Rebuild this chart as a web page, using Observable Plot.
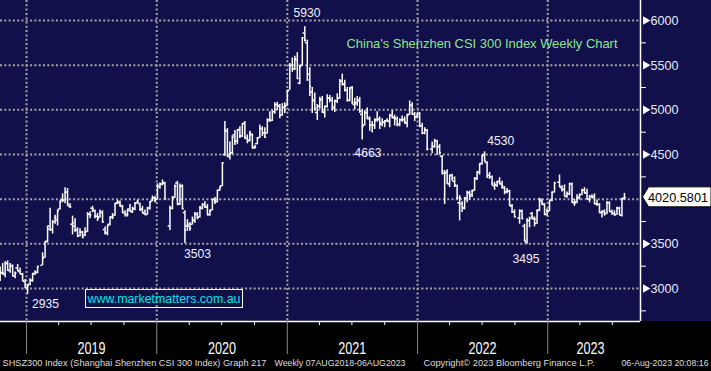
<!DOCTYPE html>
<html><head><meta charset="utf-8">
<script src="https://cdn.jsdelivr.net/npm/d3@7"></script>
<script src="https://cdn.jsdelivr.net/npm/@observablehq/plot@0.6"></script>
<style>
html,body{margin:0;padding:0;background:#000;}
#chart svg{display:block;}
</style></head><body><div id="chart"></div>
<script>
// ---- data (weekly OHLC, week ending Friday, first week 2018-10-19; null = market closed) ----
const firstWeek = "2018-10-19";
const opens = [
3215,3180,3160,3280,3200,3250,3140,3230,3190,3160,
3080,3010,3050,3090,3165,3180,null,3260,3350,3530,
3700,3660,3750,3770,3890,3990,3990,4080,3920,3720,
3700,3660,3590,3630,3600,3640,3830,3900,3870,3810,
3800,3850,3660,3620,3720,3800,3820,3960,3960,3920,
3850,3830,3890,3860,3890,3960,3950,3890,3840,3830,
3900,3980,4010,4000,4140,4170,4180,null,3700,3900,
4020,4180,3950,4150,3850,3700,3700,3720,3760,3830,
3800,3900,3940,3910,3830,3880,4000,3970,4100,4150,
4500,4760,4480,4520,4720,4650,4780,4710,4850,4680,
4660,4720,4580,4620,4690,4790,4740,4740,4890,4880,
4980,5060,5040,4940,5030,5050,5220,5500,5460,5560,
5300,5500,5860,5750,5400,5200,5110,4970,5040,5120,
4970,5040,5130,5110,5020,5100,5130,5320,5290,5220,
5110,5250,5060,5080,5110,4950,4830,4970,4900,4830,
4830,4890,4890,4840,4860,4880,4870,4940,4910,4900,
4840,4890,4890,4850,4950,5050,4950,4920,4960,4820,
4740,4770,null,4560,4590,4650,4590,4480,4290,4300,
4170,4270,4200,4150,3960,3950,3900,4010,4070,4050,
4100,4230,4300,4400,4500,4410,4270,4250,4150,4160,
4200,4170,4130,4080,4090,3920,3860,null,3790,3870,
3700,3520,3760,3840,3780,3730,3880,3980,3940,3830,
3870,3990,4080,null,4190,4130,4110,4030,4060,4170,
3960,3970,4020,4050,4100,4070,4000,4030,4030,3950,
3940,3850,3860,3840,3960,3860,3840,3830,3900,3820,
4010];
const highs = [
3240,3280,3300,3310,3280,3265,3185,3270,3230,3170,
3100,3040,3110,3170,3200,3250,null,3400,3525,3700,
3900,3760,3820,3880,3980,4060,4127,4120,3950,3810,
3780,3680,3670,3640,3680,3850,3860,3920,3880,3840,
3880,3870,3690,3710,3800,3840,3950,3985,3980,3930,
3870,3890,3940,3910,3960,3990,3955,3920,3880,3910,
3970,4035,4030,4172,4180,4215,4190,null,3920,4030,
4160,4200,4170,4160,3870,3770,3740,3800,3850,3850,
3915,3950,3970,3940,3880,4000,4020,4100,4140,4410,
4870,4790,4640,4710,4770,4780,4810,4845,4870,4720,
4760,4730,4600,4690,4830,4810,4800,4900,4980,4990,
5080,5085,5060,5070,5080,5220,5520,5580,5600,5640,
5500,5810,5930,5780,5470,5250,5190,5060,5140,5150,
5040,5170,5160,5140,5110,5180,5340,5400,5330,5250,
5250,5260,5130,5150,5140,5000,4990,5020,4920,4870,
4900,4980,4920,4900,4880,4900,4950,4990,4940,4920,
4900,4930,4920,4950,5100,5080,4970,4960,4970,4850,
4800,4780,null,4640,4670,4660,4610,4490,4320,4330,
4270,4280,4250,4160,4040,3970,4020,4090,4090,4100,
4240,4310,4400,4490,4530,4420,4300,4260,4190,4200,
4240,4200,4140,4120,4100,3940,3880,null,3880,3880,
3720,3780,3800,3850,3800,3880,4010,4000,3950,3890,
3990,4080,4190,null,4270,4150,4160,4080,4180,4180,
4000,4050,4060,4110,4130,4110,4040,4050,4060,3990,
3950,3870,3880,3970,3970,3880,3870,3910,3910,4010,
4065];
const lows = [
3080,3150,3120,3195,3170,3140,3110,3190,3160,3080,
3005,2935,3030,3070,3145,3165,null,3255,3340,3510,
3640,3610,3720,3700,3880,3960,3950,3920,3900,3600,
3630,3570,3580,3560,3580,3630,3780,3850,3780,3750,
3790,3730,3600,3590,3700,3770,3810,3940,3910,3840,
3814,3800,3860,3840,3870,3950,3870,3840,3820,3820,
3880,3970,3960,3990,4110,4150,4000,null,3650,3880,
4010,3930,3930,3880,3503,3640,3640,3710,3730,3770,
3790,3880,3900,3820,3810,3870,3940,3960,4090,4140,
4480,4470,4440,4500,4600,4610,4680,4690,4670,4620,
4640,4570,4560,4610,4680,4700,4680,4730,4860,4870,
4950,4990,4900,4930,4960,5040,5220,5420,5440,5340,
5280,5490,5760,5320,5150,4960,4990,4880,5010,4960,
4910,5020,5080,4990,4970,5070,5120,5270,5200,5090,
5090,5060,5000,5040,4960,4663,4820,4890,4760,4740,
4780,4860,4780,4810,4800,4860,4800,4900,4820,4810,
4810,4860,4840,4800,4940,4940,4870,4900,4800,4720,
4720,4540,null,4510,4570,4490,4500,4270,3942,4170,
4130,4200,4130,3990,3757,3850,3880,3960,3990,4020,
4090,4210,4270,4380,4420,4240,4220,4150,4100,4130,
4160,4110,4050,4060,3920,3840,3790,null,3720,3770,
3520,3495,3680,3770,3690,3720,3860,3930,3820,3810,
3860,3970,4070,null,4130,4080,4030,4010,4040,3960,
3920,3950,3990,4040,4060,4000,3960,4010,3940,3920,
3840,3790,3810,3830,3860,3820,3810,3820,3820,3800,
3990];
const closes = [
3167,3173,3290,3204,3258,3143,3173,3203,3166,3088,
3011,3035,3095,3169,3184,3247,null,3338,3520,3670,
3658,3745,3796,3872,3973,3989,4075,3944,3914,3734,
3648,3587,3630,3571,3629,3834,3826,3893,3808,3783,
3858,3747,3634,3706,3799,3799,3948,3972,3935,3852,
3814,3874,3870,3899,3953,3973,3877,3849,3828,3902,
3968,4017,3982,4144,4163,4186,4003,null,3899,4015,
4149,3940,4138,3895,3653,3722,3675,3771,3839,3797,
3913,3937,3915,3824,3867,3993,3980,4099,4138,4408,
4773,4478,4505,4695,4647,4772,4707,4843,4694,4651,
4739,4570,4587,4681,4791,4739,4695,4878,4887,4980,
5060,5049,4943,5025,5042,5211,5495,5458,5570,5351,
5484,5808,5779,5336,5262,5096,5007,5037,5107,4983,
5038,5135,5123,5037,5100,5133,5321,5282,5225,5102,
5240,5082,5067,5094,4983,4811,4966,4921,4827,4828,
4879,4908,4853,4866,4866,4878,4936,4922,4908,4832,
4888,4891,4860,4937,5055,4954,4921,4940,4818,4741,
4779,4563,null,4592,4654,4579,4520,4317,4294,4181,
4263,4235,4159,4013,4016,3908,4014,4078,4034,4091,
4238,4309,4394,4485,4428,4246,4254,4171,4155,4191,
4178,4151,4083,4089,3932,3856,3804,null,3869,3784,
3541,3767,3788,3801,3775,3870,3998,3954,3828,3872,
3982,4074,4181,null,4141,4106,4035,4062,4167,3968,
3958,4018,4051,4100,4070,4006,4029,4016,3949,3943,
3851,3862,3837,3963,3864,3842,3825,3902,3826,4003,
4020.58];
const lastLabel = "4020.5801";

const xDomain = ["2018-10-20", "2023-09-18"];
const yDomain = [2631, 6224];
const yMajor = [3000, 3500, 4000, 4500, 5000, 5500, 6000];
const yLabelled = [3000, 3500, 4500, 5000, 5500, 6000]; // 4000 sits under the last-value tag
const yMinor = [2750, 3250, 3750, 4250, 4750, 5250, 5750];
const yearStarts = ["2019-01-01", "2020-01-01", "2021-01-01", "2022-01-01", "2023-01-01"];
const quarterTicks = ["2019-04-01","2019-07-01","2019-10-01","2020-04-01","2020-07-01","2020-10-01",
  "2021-04-01","2021-07-01","2021-10-01","2022-04-01","2022-07-01","2022-10-01","2023-04-01","2023-07-01"];
const yearLabelText = ["2019", "2020", "2021", "2022", "2023"];
const yearLabelDates = ["2019-07-02", "2020-07-02", "2021-07-02", "2022-07-02", "2023-05-01"];
const noteText = ["5930", "4663", "3503", "2935", "4530", "3495"];
const noteDates = ["2021-02-25", "2021-08-15", "2020-04-24", "2019-02-23", "2022-08-22", "2022-11-01"];
const noteValues = [6084, 4522, 3386, 2832, 4651, 3336];
const titleText = "China's Shenzhen CSI 300 Index Weekly Chart";
const siteText = "www.marketmatters.com.au";
const footerLeft = "SHSZ300 Index (Shanghai Shenzhen CSI 300 Index) Graph 217";
const footerRange = "Weekly 07AUG2018-06AUG2023";
const footerCopy = "Copyright\u00A9 2023 Bloomberg Finance L.P.";
const footerStamp = "06-Aug-2023 20:08:16";

// ---- build tables ----
const D = s => new Date(s);
const start = D(firstWeek);
const weeks = closes.map((c, i) => ({
  date: d3.utcDay.offset(start, 7 * i),
  open: opens[i], high: highs[i], low: lows[i], close: c
})).filter(d => d.close != null);
const notes = noteText.map((t, i) => ({text: t, date: D(noteDates[i]), value: noteValues[i]}));
const yearLabels = yearLabelText.map((t, i) => ({text: t, date: D(yearLabelDates[i])}));
const lastValue = closes[closes.length - 1];

const NAVY = "#11104b";
const FONT = "'Liberation Sans',Arial,sans-serif";
const grid = {stroke: "#a4a4a4", strokeWidth: 2, strokeDasharray: "2,2.3"};

function valueTag(index, scales, values, dimensions) {
  const y = scales.y(lastValue);
  const x0 = dimensions.width - dimensions.marginRight;
  const g = d3.create("svg:g");
  g.append("path")
    .attr("d", `M${x0 + 2.5},${y} L${x0 + 8.5},${y - 10} H${dimensions.width} V${y + 10} H${x0 + 8.5} Z`)
    .attr("fill", "#fff").attr("stroke", "#000");
  g.append("text").attr("x", x0 + 8).attr("y", y).attr("dy", "0.36em")
    .attr("text-anchor", "start").attr("font-size", 13).attr("fill", "#000").attr("font-family", FONT)
    .attr("textLength", 60).attr("lengthAdjust", "spacingAndGlyphs")
    .text(lastLabel);
  return g.node();
}
function siteBox(index, scales, values, dimensions) {
  const g = d3.create("svg:g");
  g.append("rect").attr("x", 85.5).attr("y", 289.5).attr("width", 157).attr("height", 18)
    .attr("fill", "none").attr("stroke", "#fff");
  g.append("text").attr("x", 87.5).attr("y", 298.5).attr("dy", "0.35em")
    .attr("text-anchor", "start").attr("font-size", 13).attr("fill", "#00e6e6").attr("font-family", FONT)
    .attr("textLength", 153).attr("lengthAdjust", "spacingAndGlyphs").text(siteText);
  return g.node();
}

const footer = (text, anchor, dx, textAnchor) =>
  Plot.text([text], {frameAnchor: anchor, dx, dy: 42, textAnchor, lineAnchor: "middle", fill: "#dedede", fontSize: 9});

const chart = Plot.plot({
  width: 711, height: 371,
  marginLeft: 0, marginRight: 71, marginTop: 0, marginBottom: 50,
  style: {
    background: `linear-gradient(to bottom, ${NAVY} 0px, ${NAVY} 321px, #000 321px)`,
    color: "#fff", fontFamily: FONT, fontSize: "13px"
  },
  x: {type: "utc", domain: xDomain.map(D)},
  y: {domain: yDomain},
  marks: [
    Plot.ruleY(yMajor, {...grid}),
    Plot.ruleX(yearStarts.map(D), {...grid}),
    // OHLC bars
    Plot.ruleX(weeks, {x: "date", y1: "low", y2: "high", stroke: "#fff", strokeWidth: 1.5, clip: true}),
    Plot.ruleY(weeks, {y: "open", x1: d => d3.utcDay.offset(d.date, -5), x2: "date", stroke: "#fff", strokeWidth: 1.5, clip: true}),
    Plot.ruleY(weeks, {y: "close", x1: "date", x2: d => d3.utcDay.offset(d.date, 5), stroke: "#fff", strokeWidth: 1.5, clip: true}),
    // frame lines
    Plot.ruleY([yDomain[0]], {stroke: "#fff", strokeWidth: 1.5}),
    Plot.ruleX([D(xDomain[1])], {stroke: "#fff", strokeWidth: 1.5}),
    // x axis
    Plot.axisX({ticks: yearStarts.map(D), tickSize: 33, stroke: "#8a8a8a", tickFormat: () => ""}),
    Plot.axisX({ticks: quarterTicks.map(D), tickSize: 4, stroke: "#fff", tickFormat: () => ""}),
    Plot.text(yearLabels, {x: "date", text: "text", frameAnchor: "bottom", dy: 27, lineAnchor: "middle",
      fill: "#fff", fontSize: 16}),
    // y axis
    Plot.axisY({anchor: "right", ticks: yMinor, tickSize: 5, stroke: "#fff", tickFormat: () => ""}),
    Plot.axisY({anchor: "right", ticks: yLabelled, tickSize: 0, tickPadding: 10, tickFormat: d3.format("d"),
      fill: "#e8ecf8", fontSize: 13.5}),
    Plot.dot(yLabelled, {y: d => d, frameAnchor: "right", dx: 5, symbol: "triangle", rotate: 90, r: 3.2, fill: "#fff", stroke: null}),
    // annotations
    Plot.text(notes, {x: "date", y: "value", text: "text", fill: "#eef1ff", fontSize: 13.5, lineAnchor: "middle"}),
    Plot.text([titleText], {frameAnchor: "top-left", dx: 346, dy: 43, textAnchor: "start", lineAnchor: "middle",
      fill: "#8ee58e", fontSize: 13}),
    siteBox,
    valueTag,
    // footer
    footer(footerLeft, "bottom-left", 2, "start"),
    footer(footerRange, "bottom-left", 274, "start"),
    footer(footerCopy, "bottom-left", 423, "start"),
    footer(footerStamp, "bottom-right", 68, "end")
  ]
});

// condensed Bloomberg-style lettering: fit texts to the widths seen in the reference
const fitWidths = new Map([
  ["2019", 28], ["2020", 28], ["2021", 28], ["2022", 28], ["2023", 28],
  ["5930", 27], ["4663", 27], ["3503", 27], ["2935", 27], ["4530", 27], ["3495", 27],
  ["3000", 28], ["3500", 28], ["4500", 28], ["5000", 28], ["5500", 28], ["6000", 28],
  [titleText, 271],
  [footerLeft, 264], [footerRange, 131], [footerCopy, 171], [footerStamp, 87]
]);
chart.querySelectorAll("text").forEach(t => {
  const w = fitWidths.get(t.textContent);
  if (w) { t.setAttribute("textLength", w); t.setAttribute("lengthAdjust", "spacingAndGlyphs"); }
});
document.getElementById("chart").appendChild(chart);
</script>
</body></html>
